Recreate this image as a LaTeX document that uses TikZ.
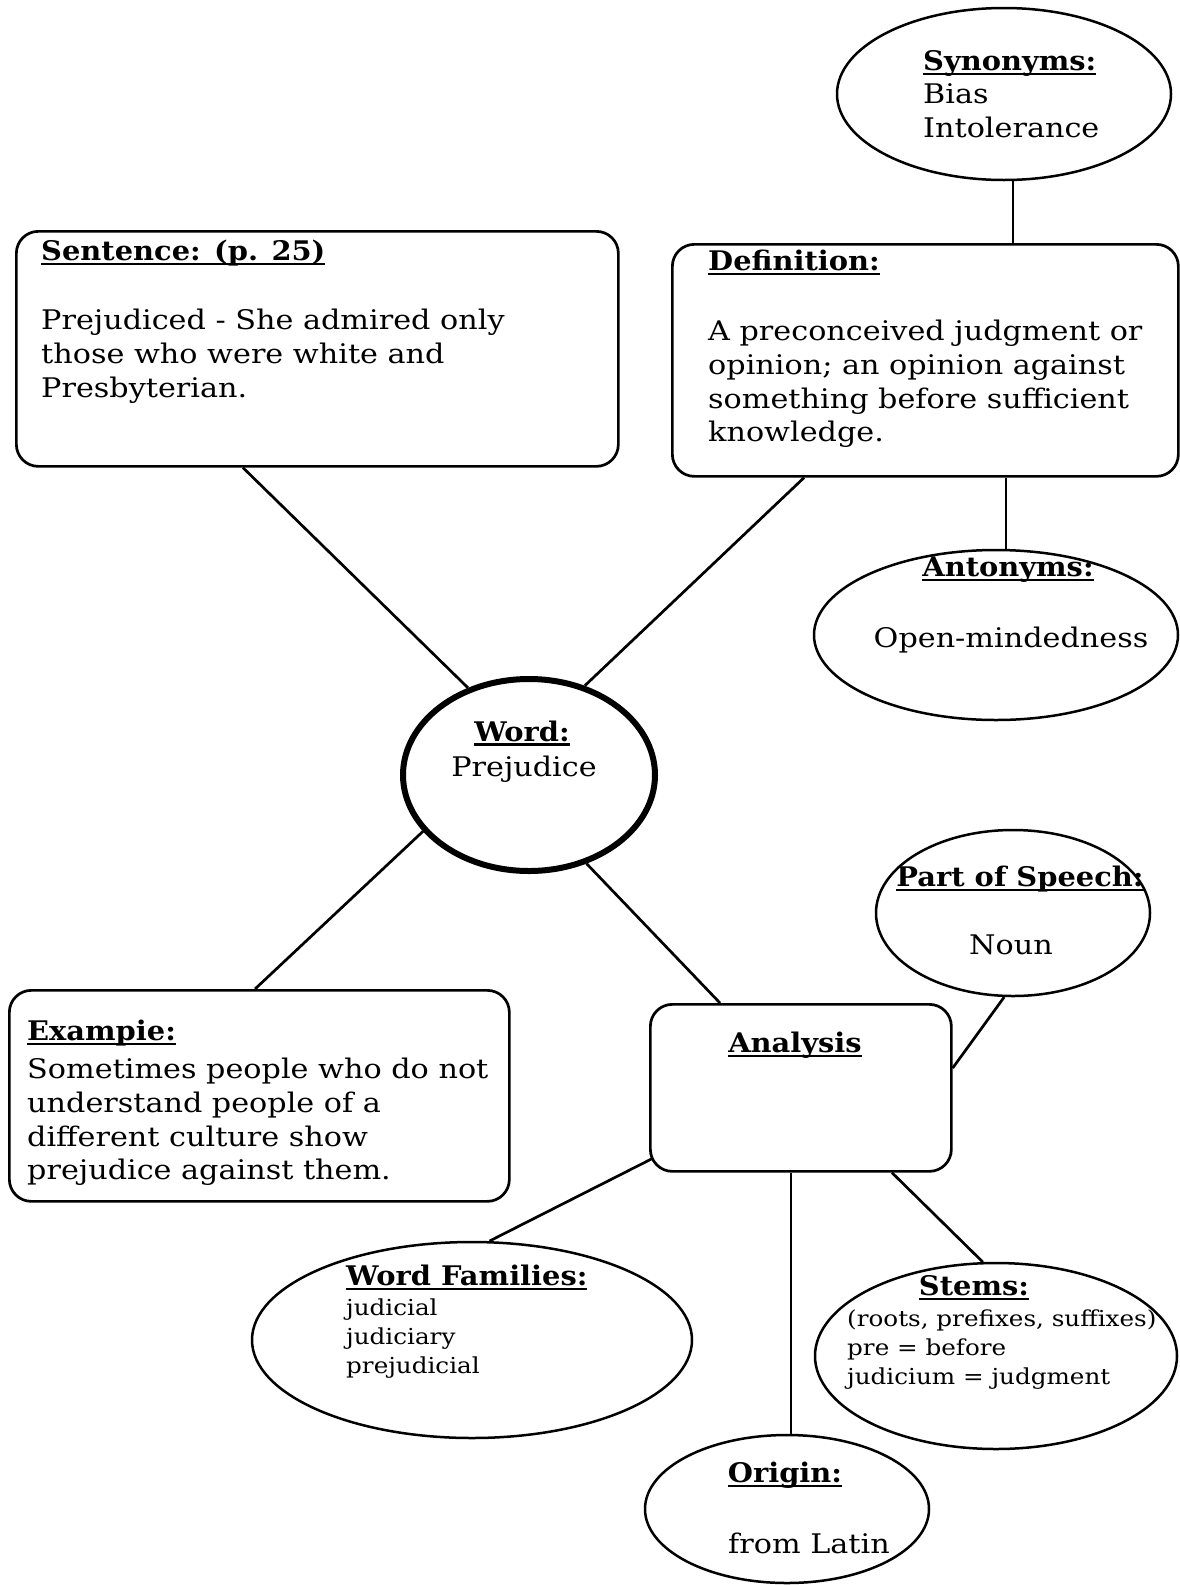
\documentclass[tikz,border=0pt]{standalone}
\usepackage{fontspec}
\setmainfont[FakeStretch=1.12, BoldFeatures={FakeStretch=1.07}]{DejaVu Serif}
\usetikzlibrary{shapes.geometric,calc}
% bold heading with a rule underneath
\newsavebox\hdbox
\newcommand\hd[1]{\sbox\hdbox{\textbf{#1}}\rlap{\rule[-4.5pt]{\wd\hdbox}{2.2pt}}\usebox\hdbox}
\begin{document}
\begin{tikzpicture}[x=1pt,y=-1pt,
  card/.style={draw, line width=2.7pt, rounded corners=22pt, inner sep=0pt, anchor=north west},
  bubble/.style={draw, ellipse, line width=2.5pt, inner sep=0pt},
  link/.style={line width=2.7pt},
  txt/.style={font=\fontsize{27}{33.7}\selectfont, align=left, inner sep=0pt},
  smalltxt/.style={font=\fontsize{22}{29}\selectfont, align=left, inner sep=0pt}]
\path[use as bounding box, fill=white] (0,0) rectangle (1180,1585);

% boxes
\node[card, minimum width=602pt, minimum height=235pt] (sentence) at (15,230) {};
\node[card, minimum width=506pt, minimum height=232pt] (definition) at (671,243) {};
\node[card, minimum width=500pt, minimum height=211pt] (example) at (8,989) {};
\node[card, minimum width=301pt, minimum height=167pt] (analysis) at (649,1003) {};

% bubbles
\node[bubble, minimum width=334pt, minimum height=172pt] (synonyms) at (1004,94) {};
\node[bubble, minimum width=364pt, minimum height=170pt] (antonyms) at (996,635) {};
\node[bubble, line width=6pt, minimum width=252pt, minimum height=192pt] (word) at (529,775) {};
\node[bubble, minimum width=274pt, minimum height=166pt] (speech) at (1013,913) {};
\node[bubble, minimum width=440pt, minimum height=196pt] (families) at (472,1340) {};
\node[bubble, minimum width=362pt, minimum height=186pt] (stems) at (996,1356) {};
\node[bubble, minimum width=284pt, minimum height=148pt] (origin) at (787,1509) {};

% connectors
\draw[link] ($(sentence.south west)+(228,0)$) -- (word.125);
\draw[link] ($(definition.south west)+(133,0)$) -- (word.58);
\draw[link] (word.208) -- ($(example.north west)+(247,0)$);
\draw[link] (word.-57) -- ($(analysis.north west)+(71,0)$);
\draw[link] (speech.264) -- ($(analysis.north east)+(0,65)$);
\draw[link] ($(analysis.south west)+(3,-14)$) -- (families.80);
\draw[link] ($(analysis.south west)+(243,0)$) -- (stems.98);
\draw[link] ($(analysis.south west)+(142,0)$) coordinate (o1) -- (o1 |- origin.north);
\draw[link] ($(synonyms.south)+(9,0)$) -- ($(definition.north west)+(342,0)$);
\draw[link] ($(definition.south west)+(335,0)$) -- ($(antonyms.north)+(10,0)$);

% texts
\node[txt, anchor=north west] (senth) at (41,240) {\hd{Sentence: (p. 25)}};
\node[txt, anchor=north west] (sentb) at (41,309) {Prejudiced - She admired only\\those who were white and\\Presbyterian.};

\node[txt, anchor=north west] (defh) at (708,250) {\hd{Definition:}};
\node[txt, anchor=north west] (defb) at (708,320) {A preconceived judgment or\\opinion; an opinion against\\something before sufficient\\knowledge.};

\node[txt, anchor=north west] (synt) at (923,50) {\hd{Synonyms:}\\Bias\\Intolerance};

\node[txt] (anth) at (1008,570) {\hd{Antonyms:}};
\node[txt] (antb) at (1011,640) {Open-mindedness};

\node[txt] (wordh) at (522,733) {\hd{Word:}};
\node[txt] (wordb) at (524,769) {Prejudice};

\node[txt] (speechh) at (1020,879) {\hd{Part of Speech:}};
\node[txt] (speechb) at (1011,945) {Noun};

\node[txt, anchor=north west] (exh) at (27,1020) {\hd{Exampie:}};
\node[txt, anchor=north west] (exb) at (27,1058) {Sometimes people who do not\\understand people of a\\different culture show\\prejudice against them.};

\node[txt] (anah) at (795,1045) {\hd{Analysis}};

\node[txt, anchor=north west] (famh) at (346,1265) {\hd{Word Families:}};
\node[smalltxt, anchor=north west] (famb) at (346,1299) {judicial\\judiciary\\prejudicial};

\node[txt] (stemh) at (974,1288) {\hd{Stems:}};
\node[smalltxt, anchor=north west] (stemb) at (847,1310) {(roots, prefixes, suffixes)\\pre = before\\judicium = judgment};

\node[txt] (origh) at (785,1475) {\hd{Origin:}};
\node[txt] (origb) at (809,1543) {from Latin};
\end{tikzpicture}
\end{document}
